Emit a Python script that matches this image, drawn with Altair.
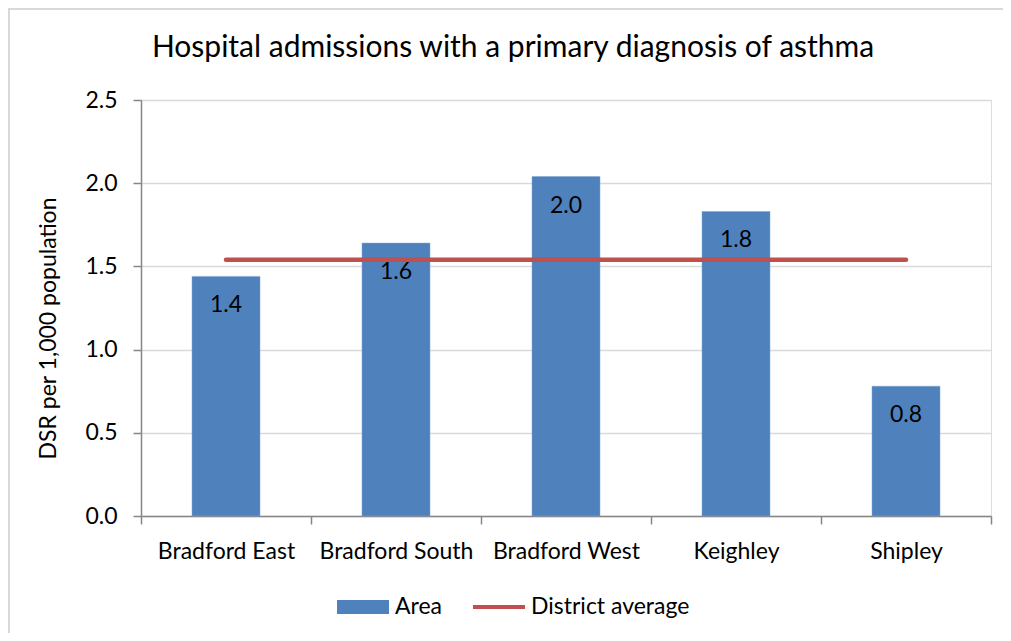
import altair as alt
import pandas as pd

areas = ["Bradford East", "Bradford South", "Bradford West", "Keighley", "Shipley"]
rates = [1.44, 1.64, 2.04, 1.83, 0.78]
district_avg = [1.54, 1.54, 1.54, 1.54, 1.54]
series_names = ["Area", "District average"]
series_colors = ["#4F81BD", "#C0504D"]
y_ticks = [0.0, 0.5, 1.0, 1.5, 2.0, 2.5]
chart_title = ["Hospital admissions with a primary diagnosis of asthma"]

FONT = "Lato"
FS = 23

df = pd.DataFrame({"area": areas, "rate": rates, "avg": district_avg})
leg_df = pd.DataFrame({"series": series_names})
title_df = pd.DataFrame({"t": chart_title})

x_enc = alt.X(
    "area:N",
    sort=areas,
    title=None,
    scale=alt.Scale(paddingInner=0, paddingOuter=0),
    axis=alt.Axis(
        labelAngle=0, labelFontSize=FS, labelFont=FONT, labelColor="#000000",
        labelPadding=16, tickBand="extent", tickSize=8, tickColor="#868686",
        domainColor="#868686", domainWidth=1.5, tickWidth=1.5, grid=False,
    ),
)

y_scale = alt.Scale(domain=[0, 2.5], nice=False)
y_axis = alt.Axis(
    values=y_ticks, format=".1f", labelFontSize=FS, labelFont=FONT,
    labelColor="#000000", labelPadding=16, tickSize=8, tickColor="#868686",
    tickWidth=1.5, domainColor="#868686", domainWidth=1.5,
    gridColor="#D9D9D9", gridWidth=1.5,
    title="DSR per 1,000 population", titleFont=FONT, titleFontSize=FS,
    titleFontWeight="normal", titleColor="#000000",
    titleX=-93, titleY=228, titleAngle=270, titleAlign="center", titleBaseline="middle",
)

base = alt.Chart(df)

frame = base.mark_rect(fill=None, stroke="#D9D9D9", strokeWidth=2, clip=False).encode(
    x=alt.value(-132), x2=alt.value(1100), y=alt.value(-91), y2=alt.value(700),
)

title_layer = alt.Chart(title_df).mark_text(
    font=FONT, fontSize=30, color="#000000", align="center", baseline="middle",
).encode(
    text="t:N", x=alt.value(372), y=alt.value(-52),
)

bars = base.mark_bar(
    color=series_colors[0], stroke="#7FA6D6", strokeWidth=0.5,
    width=alt.RelativeBandSize(0.4),
).encode(
    x=x_enc,
    y=alt.Y("rate:Q", scale=y_scale, axis=y_axis),
)

labels = base.mark_text(font=FONT, fontSize=FS, color="#000000", baseline="middle", dy=29).encode(
    x=alt.X("area:N", sort=areas),
    y=alt.Y("rate:Q"),
    text=alt.Text("rate:Q", format=".1f"),
)

line = base.mark_line(color=series_colors[1], strokeWidth=4.5, strokeCap="round").encode(
    x=alt.X("area:N", sort=areas),
    y=alt.Y("avg:Q"),
)

leg = alt.Legend(
    title=None, orient="none", direction="horizontal",
    legendX=196, legendY=481, labelFont=FONT, labelFontSize=FS,
    labelColor="#000000", symbolSize=2704, symbolStrokeWidth=0,
    symbolOpacity=1, labelOffset=6, columnPadding=30, padding=0,
)

legend_layer = alt.Chart(leg_df).mark_point(filled=True, opacity=1).encode(
    color=alt.Color(
        "series:N",
        scale=alt.Scale(domain=series_names, range=series_colors),
        legend=leg,
    ),
    shape=alt.Shape(
        "series:N",
        scale=alt.Scale(
            domain=series_names,
            range=["M-1,-0.27H1V0.27H-1Z", "M-1,-0.08H1V0.08H-1Z"],
        ),
        legend=leg,
    ),
).transform_filter("false")

chart = alt.layer(frame, title_layer, bars, line, labels, legend_layer).properties(
    width=850,
    height=416,
    autosize=alt.AutoSizeParams(type="none"),
    padding={"left": 133, "top": 92, "right": 12, "bottom": 117},
).configure_view(stroke=None).configure(background="#FFFFFF")

chart.save("out.html", embed_options={"renderer": "svg", "actions": False})
